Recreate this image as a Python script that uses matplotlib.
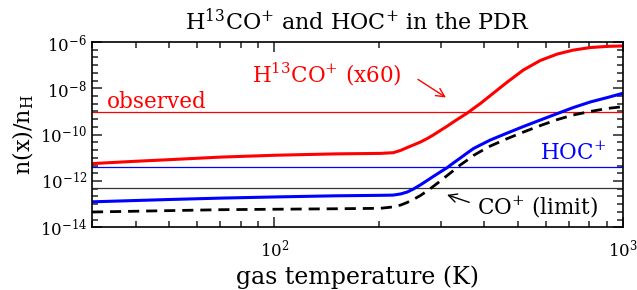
import numpy as np
import matplotlib
matplotlib.use("Agg")
import matplotlib.pyplot as plt
from matplotlib.ticker import FixedLocator, NullFormatter, LogLocator

plt.rcParams["font.family"] = ["DejaVu Serif"]
plt.rcParams["mathtext.fontset"] = "dejavuserif"

# ---- data (log10 abundance vs gas temperature) ----
T_h13co = [30, 40, 50, 70, 100, 150, 201, 219, 230, 240, 250, 262, 274, 285,
           299, 313, 326, 341, 357, 372, 389, 416, 465, 517, 578, 647, 719,
           804, 899, 1000]
log_h13co = [-11.25, -11.15, -11.08, -10.97, -10.89, -10.83, -10.81, -10.78,
             -10.68, -10.56, -10.45, -10.32, -10.17, -10.02, -9.82, -9.63,
             -9.45, -9.26, -9.07, -8.87, -8.66, -8.31, -7.73, -7.21, -6.80,
             -6.52, -6.35, -6.24, -6.19, -6.17]

T_hoc = [30, 50, 70, 100, 150, 201, 219, 230, 240, 250, 262, 274, 285, 299,
         313, 326, 341, 357, 372, 389, 416, 465, 517, 578, 647, 719, 804, 899,
         1000]
log_hoc = [-12.90, -12.80, -12.74, -12.69, -12.64, -12.62, -12.61, -12.56,
           -12.48, -12.35, -12.17, -11.98, -11.81, -11.61, -11.42, -11.22,
           -11.01, -10.79, -10.60, -10.45, -10.23, -9.93, -9.65, -9.37, -9.09,
           -8.83, -8.59, -8.40, -8.21]

T_cop = [30, 50, 70, 100, 150, 201, 219, 230, 240, 250, 262, 274, 285, 299,
         313, 326, 341, 357, 372, 389, 416, 465, 517, 578, 647, 719, 804, 899,
         1000]
log_cop = [-13.34, -13.28, -13.24, -13.22, -13.20, -13.18, -13.12, -13.04,
           -12.93, -12.80, -12.63, -12.43, -12.24, -12.00, -11.76, -11.55,
           -11.31, -11.10, -10.90, -10.73, -10.49, -10.17, -9.89, -9.61, -9.35,
           -9.15, -9.00, -8.87, -8.79]

# observed levels (horizontal lines)
obs_h13co = 9.5e-10
obs_hoc = 3.9e-12
obs_cop = 4.8e-13


def main():
    fig = plt.figure(figsize=(6.37, 2.90), dpi=100)
    ax = fig.add_axes([0.1444, 0.2162, 0.8341, 0.6390])

    ax.set_xscale("log")
    ax.set_yscale("log")
    ax.set_xlim(30, 1000)
    ax.set_ylim(1e-14, 1e-6)

    ax.axhline(obs_h13co, color="red", lw=0.9)
    ax.axhline(obs_hoc, color="blue", lw=0.9)
    ax.axhline(obs_cop, color="#333333", lw=0.9)

    ax.plot(T_h13co, 10 ** np.array(log_h13co), color="red", lw=2.2)
    ax.plot(T_hoc, 10 ** np.array(log_hoc), color="blue", lw=2.2)
    ax.plot(T_cop, 10 ** np.array(log_cop), color="black", lw=2.0,
            dashes=(4, 2.5))

    # ticks: inward on all sides, y major every 2 decades, minor every 1/3 dex
    ax.yaxis.set_major_locator(FixedLocator(10.0 ** np.arange(-14, -5, 2)))
    ax.yaxis.set_minor_locator(FixedLocator(10.0 ** np.arange(-14, -6 + 1e-6, 1 / 3)))
    ax.yaxis.set_minor_formatter(NullFormatter())
    ax.xaxis.set_major_locator(LogLocator(base=10, numticks=10))
    ax.xaxis.set_minor_locator(LogLocator(base=10, subs=np.arange(2, 10), numticks=10))
    ax.xaxis.set_minor_formatter(NullFormatter())
    ax.tick_params(which="both", direction="in", top=True, right=True,
                   labelsize=12, width=1.1, color="#222222")
    ax.tick_params(which="major", length=7)
    ax.tick_params(which="minor", length=4)
    ax.tick_params(axis="x", pad=8)
    for sp in ax.spines.values():
        sp.set_linewidth(1.2)

    ax.set_title("H$^{13}$CO$^{+}$ and HOC$^{+}$ in the PDR", fontsize=16, pad=9)
    ax.set_xlabel("gas temperature (K)", fontsize=17, labelpad=4)
    ax.set_ylabel("n(x)/n$_\\mathrm{H}$", fontsize=16, labelpad=3)

    ax.text(33.2, 10 ** -8.87, "observed", color="red", fontsize=15.5)
    ax.text(86.5, 10 ** -7.73, "H$^{13}$CO$^{+}$ (x60)", color="red", fontsize=15.5)
    ax.text(578, 10 ** -11.09, "HOC$^{+}$", color="blue", fontsize=15.5)
    ax.text(382, 10 ** -13.45, "CO$^{+}$ (limit)", color="black", fontsize=15.5)

    ax.annotate("", xy=(315, 10 ** -8.46), xytext=(254, 10 ** -7.55),
                arrowprops=dict(arrowstyle="->,head_length=0.6,head_width=0.3",
                                color="red", lw=1.0))
    ax.annotate("", xy=(307, 10 ** -12.56), xytext=(368, 10 ** -12.96),
                arrowprops=dict(arrowstyle="->,head_length=0.6,head_width=0.3",
                                color="black", lw=1.0))

    fig.savefig("out.png", dpi=100)
    plt.close(fig)


if __name__ == "__main__":
    main()
